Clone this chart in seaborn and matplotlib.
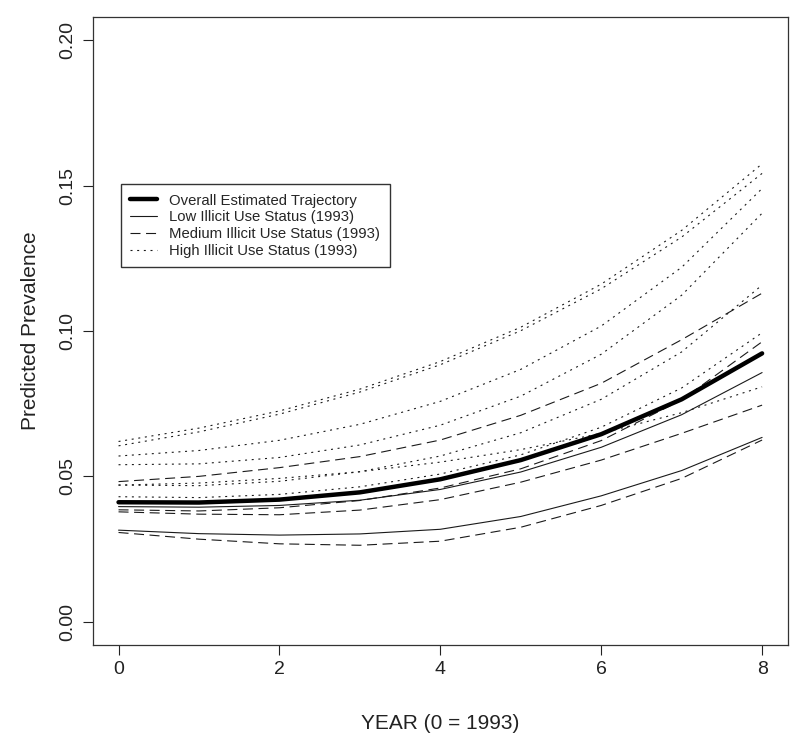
import numpy as np
import pandas as pd
import matplotlib
matplotlib.use('Agg')
import matplotlib.pyplot as plt
import seaborn as sns
from matplotlib.lines import Line2D

# Годы (0 = 1993)
years = [0, 1, 2, 3, 4, 5, 6, 7, 8]

# Общая траектория
overall = [0.0411, 0.0410, 0.0420, 0.0445, 0.0490, 0.0556, 0.0645, 0.0765, 0.0923]

# Низкий статус (сплошные)
low_1 = [0.0396, 0.0394, 0.0400, 0.0418, 0.0455, 0.0515, 0.0600, 0.0712, 0.0857]
low_2 = [0.0315, 0.0303, 0.0298, 0.0302, 0.0318, 0.0362, 0.0433, 0.0520, 0.0634]

# Средний статус (пунктир)
med_1 = [0.0482, 0.0500, 0.0530, 0.0568, 0.0625, 0.0710, 0.0820, 0.0970, 0.1130]
med_2 = [0.0385, 0.0381, 0.0392, 0.0417, 0.0460, 0.0526, 0.0623, 0.0763, 0.0963]
med_3 = [0.0378, 0.0370, 0.0368, 0.0384, 0.0420, 0.0480, 0.0556, 0.0648, 0.0745]
med_4 = [0.0307, 0.0284, 0.0268, 0.0263, 0.0277, 0.0325, 0.0400, 0.0493, 0.0625]

# Высокий статус (точки)
high_1 = [0.0620, 0.0666, 0.0725, 0.0800, 0.0895, 0.1013, 0.1161, 0.1346, 0.1575]
high_2 = [0.0605, 0.0653, 0.0714, 0.0790, 0.0884, 0.1001, 0.1145, 0.1323, 0.1542]
high_3 = [0.0570, 0.0589, 0.0624, 0.0679, 0.0758, 0.0868, 0.1017, 0.1219, 0.1490]
high_4 = [0.0540, 0.0543, 0.0565, 0.0608, 0.0676, 0.0776, 0.0920, 0.1123, 0.1405]
high_5 = [0.0470, 0.0468, 0.0483, 0.0516, 0.0570, 0.0650, 0.0765, 0.0928, 0.1158]
high_6 = [0.0470, 0.0477, 0.0493, 0.0516, 0.0549, 0.0592, 0.0648, 0.0719, 0.0808]
high_7 = [0.0430, 0.0427, 0.0438, 0.0464, 0.0508, 0.0574, 0.0669, 0.0804, 0.0994]

legend_labels = ['Overall Estimated Trajectory',
                 'Low Illicit Use Status (1993)',
                 'Medium Illicit Use Status (1993)',
                 'High Illicit Use Status (1993)']

# Собираем длинную таблицу
curves = {
    'low_1': ('low', low_1), 'low_2': ('low', low_2),
    'med_1': ('med', med_1), 'med_2': ('med', med_2),
    'med_3': ('med', med_3), 'med_4': ('med', med_4),
    'high_1': ('high', high_1), 'high_2': ('high', high_2),
    'high_3': ('high', high_3), 'high_4': ('high', high_4),
    'high_5': ('high', high_5), 'high_6': ('high', high_6),
    'high_7': ('high', high_7),
    'overall': ('overall', overall),
}
rows = []
for name, (group, vals) in curves.items():
    for yr, v in zip(years, vals):
        rows.append({'curve': name, 'group': group, 'year': yr, 'prev': v})
df = pd.DataFrame(rows)

styles = {
    'low': dict(color='#1a1a1a', lw=0.8, linestyle='-'),
    'med': dict(color='#1a1a1a', lw=0.8, linestyle=(0, (9, 5))),
    'high': dict(color='#1a1a1a', lw=0.8, linestyle=(0, (1.8, 4.2))),
    'overall': dict(color='black', lw=3.2, linestyle='-'),
}

sns.set_style('ticks')
plt.rcParams['font.family'] = ['Liberation Sans', 'DejaVu Sans']

fig = plt.figure(figsize=(8, 7.48), dpi=100)
ax = fig.add_axes([0.116, 0.1377, 0.8688, 0.8396])

for name in curves:
    sub = df[df['curve'] == name]
    st = styles[sub['group'].iloc[0]]
    sns.lineplot(data=sub, x='year', y='prev', ax=ax, color=st['color'],
                 lw=st['lw'], linestyle=st['linestyle'], legend=False)

ax.set_xlim(-0.32, 8.32)
ax.set_ylim(-0.008, 0.208)
ax.set_xticks([0, 2, 4, 6, 8])
ax.set_xticklabels(['0', '2', '4', '6', '8'])
ax.set_yticks([0, 0.05, 0.10, 0.15, 0.20])
ax.set_yticklabels(['0.00', '0.05', '0.10', '0.15', '0.20'], rotation=90, va='center')
ax.tick_params(direction='out', length=7.2, width=0.8, labelsize=14, pad=4.5, colors='#222222')
for sp in ax.spines.values():
    sp.set_visible(True)
    sp.set_linewidth(0.9)
    sp.set_color('#333333')

ax.set_xlabel('YEAR (0 = 1993)', fontsize=15, labelpad=26, color='#222222')
ax.set_ylabel('Predicted Prevalence', fontsize=15, labelpad=14, color='#222222')

handles = [Line2D([], [], **styles['overall']),
           Line2D([], [], **styles['low']),
           Line2D([], [], **styles['med']),
           Line2D([], [], **styles['high'])]
leg = ax.legend(handles, legend_labels, loc='upper left', bbox_to_anchor=(0.0403, 0.734),
                borderaxespad=0, fontsize=10.7, frameon=True, fancybox=False,
                handlelength=1.8, handletextpad=0.8, labelspacing=0.18, borderpad=0.65)
leg.get_frame().set_edgecolor('black')
leg.get_frame().set_linewidth(1.0)

fig.savefig('out.png', dpi=100)
